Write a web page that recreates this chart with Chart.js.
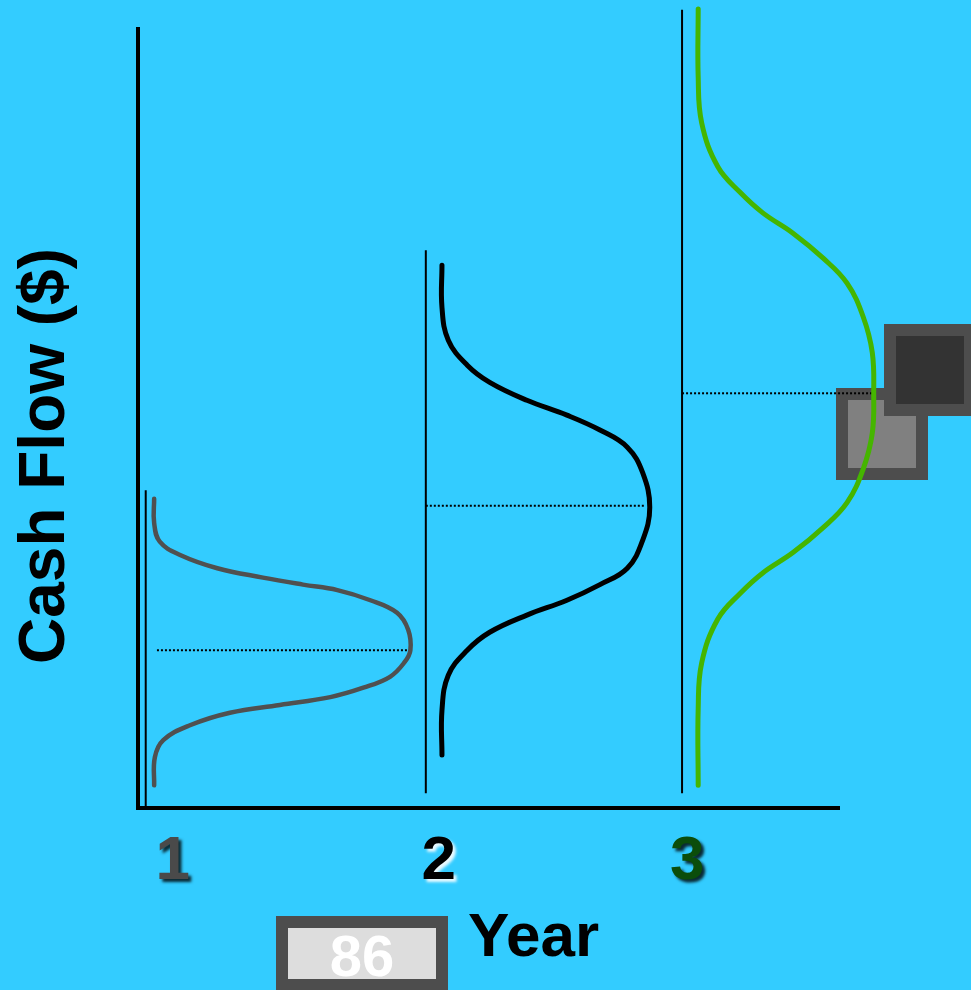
<!DOCTYPE html>
<html>
<head>
<meta charset="utf-8">
<script src="https://cdn.jsdelivr.net/npm/chart.js@4.4.1/dist/chart.umd.min.js"></script>
<style>
  html, body { margin: 0; padding: 0; background: #33ccff; }
  #wrap { width: 971px; height: 990px; position: relative; }
</style>
</head>
<body>
<div id="wrap"><canvas id="cf"></canvas></div>
<script>
// year labels under the axis and where they sit on the x scale
const years = ["1", "2", "3"];
const yearPos = [4.8, 42.7, 78.1];
const yearColors = ["#4a4a4a", "#000000", "#0b4d0b"];

// distribution curves, [x, cash flow]
const year1Curve = [
  [2.3, 39.6], [2.3, 36.5], [3.1, 34.1], [6.0, 32.4], [11.3, 30.7], [17.8, 29.5],
  [23.5, 28.6], [28.4, 27.9], [33.1, 26.6], [36.9, 25.0], [38.5, 22.8], [38.8, 20.2],
  [38.0, 18.7], [35.9, 16.8], [32.1, 15.4], [27.4, 14.2], [20.2, 13.2], [13.1, 12.2],
  [7.4, 10.6], [3.6, 8.7], [2.4, 6.5], [2.3, 2.9]
];
const year2Curve = [
  [43.3, 69.5], [43.3, 64.1], [44.2, 59.9], [46.9, 56.7], [50.1, 54.5], [55.4, 52.2],
  [61.1, 50.3], [65.8, 48.4], [69.7, 46.2], [71.9, 42.9], [72.9, 38.5], [71.9, 34.3],
  [69.7, 30.7], [65.8, 28.6], [61.1, 26.6], [55.4, 24.7], [50.1, 22.5], [46.9, 20.2],
  [44.2, 17.0], [43.3, 12.5], [43.3, 6.8]
];
const year3Curve = [
  [79.8, 102.3], [79.8, 93.6], [80.3, 87.7], [82.6, 82.1], [85.8, 78.8], [89.0, 76.2],
  [93.3, 73.6], [97.6, 70.4], [101.0, 67.2], [103.3, 62.9], [104.6, 58.3], [104.8, 53.1],
  [104.6, 48.0], [103.3, 43.4], [101.0, 39.1], [97.6, 35.9], [93.3, 32.7], [89.0, 30.1],
  [85.8, 27.5], [82.6, 24.2], [80.3, 18.6], [79.8, 12.7], [79.8, 2.9]
];
const curveColors = ["#505050", "#000000", "#45b500"];

// mean cash flow (dotted lines) and the thin vertical base lines
const meanCash = [20.2, 38.7, 53.1];
const meanFrom = [2.7, 41.0, 77.5];
const meanTo = [38.7, 72.2, 104.8];
const baseX = [1.1, 41.0, 77.5];
const baseBottom = [0, 1.9, 1.9];
const baseTop = [40.7, 71.4, 102.2];

const toPts = arr => arr.map(p => ({ x: p[0], y: p[1] }));

let datasets = [];
[year1Curve, year2Curve, year3Curve].forEach((c, i) => {
  datasets.push({
    data: toPts(c),
    borderColor: curveColors[i],
    borderWidth: i === 0 ? 4.5 : 5,
    tension: 0.4,
    borderCapStyle: "round",
    pointRadius: 0,
    showLine: true,
    clip: false
  });
});
meanCash.forEach((m, i) => {
  datasets.push({
    data: [{ x: meanFrom[i], y: m }, { x: meanTo[i], y: m }],
    borderColor: "#000",
    borderWidth: 2,
    borderDash: [2, 2],
    pointRadius: 0,
    showLine: true,
    clip: false
  });
  datasets.push({
    data: [{ x: baseX[i], y: baseBottom[i] }, { x: baseX[i], y: baseTop[i] }],
    borderColor: "#000",
    borderWidth: 2,
    pointRadius: 0,
    showLine: true,
    clip: false
  });
});

function drawBox(ctx, x, y, w, h, edge, fill) {
  ctx.fillStyle = edge;
  ctx.fillRect(x, y, w, h);
  ctx.fillStyle = fill;
  ctx.fillRect(x + 12, y + 12, w - 24, h - 24);
}

const decor = {
  id: "decor",
  beforeDatasetsDraw(chart) {
    const ctx = chart.ctx;
    const a = chart.chartArea;
    ctx.save();
    drawBox(ctx, 836, 388, 92, 92, "#4d4d4d", "#808080");
    drawBox(ctx, 884, 324, 92, 92, "#4d4d4d", "#333333");

    // axes
    ctx.strokeStyle = "#000";
    ctx.lineWidth = 4;
    ctx.beginPath();
    ctx.moveTo(a.left, a.top);
    ctx.lineTo(a.left, a.bottom + 2);
    ctx.moveTo(a.left - 2, a.bottom);
    ctx.lineTo(a.right, a.bottom);
    ctx.stroke();
    ctx.restore();
  },
  afterDraw(chart) {
    const ctx = chart.ctx;
    const a = chart.chartArea;
    const xs = chart.scales.x;
    ctx.save();
    ctx.font = "bold 62px 'Liberation Sans', Arial, sans-serif";
    ctx.textAlign = "center";
    ctx.textBaseline = "alphabetic";
    years.forEach((t, i) => {
      const px = xs.getPixelForValue(yearPos[i]);
      if (i === 1) {
        ctx.shadowColor = "rgba(255,255,255,0.9)";
      } else {
        ctx.shadowColor = "rgba(0,0,0,0.8)";
      }
      ctx.shadowOffsetX = 3;
      ctx.shadowOffsetY = 3;
      ctx.shadowBlur = 3;
      ctx.fillStyle = yearColors[i];
      ctx.fillText(t, px + 1, a.bottom + 71);
    });
    ctx.shadowColor = "transparent";
    ctx.shadowBlur = 0;
    ctx.shadowOffsetX = 0;
    ctx.shadowOffsetY = 0;

    // x title
    ctx.fillStyle = "#000";
    ctx.textAlign = "left";
    ctx.fillText("Year", 468, 956);

    // y title
    ctx.save();
    ctx.translate(64, 456);
    ctx.rotate(-Math.PI / 2);
    ctx.font = "bold 64px 'Liberation Sans', Arial, sans-serif";
    ctx.textAlign = "center";
    ctx.fillText("Cash Flow ($)", 0, 0);
    ctx.restore();

    // page number box
    drawBox(ctx, 276, 916, 172, 75, "#4d4d4d", "#dddddd");
    ctx.font = "bold 58px 'Liberation Sans', Arial, sans-serif";
    ctx.fillStyle = "#ffffff";
    ctx.textAlign = "center";
    ctx.fillText("86", 362, 976);
    ctx.restore();
  }
};

new Chart(document.getElementById("cf"), {
  type: "scatter",
  data: { datasets: datasets },
  options: {
    responsive: true,
    maintainAspectRatio: false,
    animation: false,
    layout: { padding: { left: 138, right: 131, top: 27, bottom: 182 } },
    scales: {
      x: { type: "linear", min: 0, max: 100, display: false },
      y: { type: "linear", min: 0, max: 100, display: false }
    },
    plugins: {
      legend: { display: false },
      tooltip: { enabled: false }
    }
  },
  plugins: [decor]
});
</script>
</body>
</html>
